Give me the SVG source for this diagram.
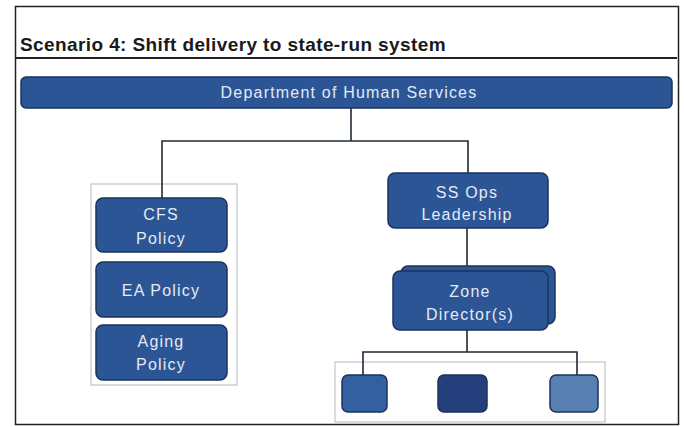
<svg xmlns="http://www.w3.org/2000/svg" width="684" height="427" viewBox="0 0 684 427">
<style>
.box{fill:#2c5595;stroke:#1b335c;stroke-width:1.5}
.lbl{font-family:"Liberation Sans",Arial,sans-serif;font-size:16px;fill:#e4eaf3;text-anchor:middle;letter-spacing:1.2px}
.cont{fill:#ffffff;stroke:#c4c4c4;stroke-width:1.2}
.conn{fill:none;stroke:#1f2a36;stroke-width:1.6}
</style>
<rect x="0" y="0" width="684" height="427" fill="#ffffff"/>
<rect x="15.5" y="6.5" width="663" height="418" fill="#ffffff" stroke="#222222" stroke-width="1.5"/>
<text x="20" y="51" font-family="'Liberation Sans',Arial,sans-serif" font-size="19" font-weight="bold" fill="#1a1a1a" letter-spacing="0.4">Scenario 4: Shift delivery to state-run system</text>
<line x1="16" y1="58" x2="677" y2="58" stroke="#222222" stroke-width="2"/>

<g id="containers">
<rect class="cont" x="91" y="184" width="146" height="201"/>
<rect class="cont" x="335" y="362" width="270" height="60"/>
</g>

<g id="connectors">
<path class="conn" d="M351 108 V141 M162 198 V141 H468 V173"/>
<path class="conn" d="M467 228 V267"/>
<path class="conn" d="M467 330 V352 M363 375 V352 H577 V375"/>
</g>

<g id="dhs">
<rect class="box" x="21" y="77" width="651" height="31" rx="5"/>
<text class="lbl" x="349" y="98" font-size="17" letter-spacing="1.5">Department of Human Services</text>
</g>

<g id="cfs">
<rect class="box" x="96" y="198" width="131" height="54" rx="7"/>
<text class="lbl" x="161" y="220">CFS</text>
<text class="lbl" x="161" y="244">Policy</text>
</g>

<g id="ea">
<rect class="box" x="96" y="262" width="131" height="55" rx="7"/>
<text class="lbl" x="161" y="296">EA Policy</text>
</g>

<g id="aging">
<rect class="box" x="96" y="325" width="131" height="55" rx="7"/>
<text class="lbl" x="161" y="347">Aging</text>
<text class="lbl" x="161" y="370">Policy</text>
</g>

<g id="ssops">
<rect class="box" x="388" y="173" width="160" height="55" rx="7"/>
<text class="lbl" x="467" y="198">SS Ops</text>
<text class="lbl" x="467" y="220">Leadership</text>
</g>

<g id="zone">
<rect class="box" x="401" y="266" width="154" height="58" rx="7"/>
<rect class="box" x="393" y="271" width="155" height="59" rx="7"/>
<text class="lbl" x="470" y="297">Zone</text>
<text class="lbl" x="470" y="320">Director(s)</text>
</g>

<g id="unit1">
<rect class="box" x="342" y="375" width="45" height="37" rx="6" style="fill:#33609f"/>
</g>
<g id="unit2">
<rect class="box" x="438" y="375" width="49" height="37" rx="6" style="fill:#243f7b"/>
</g>
<g id="unit3">
<rect class="box" x="550" y="375" width="48" height="37" rx="6" style="fill:#5a7fb2"/>
</g>
</svg>
